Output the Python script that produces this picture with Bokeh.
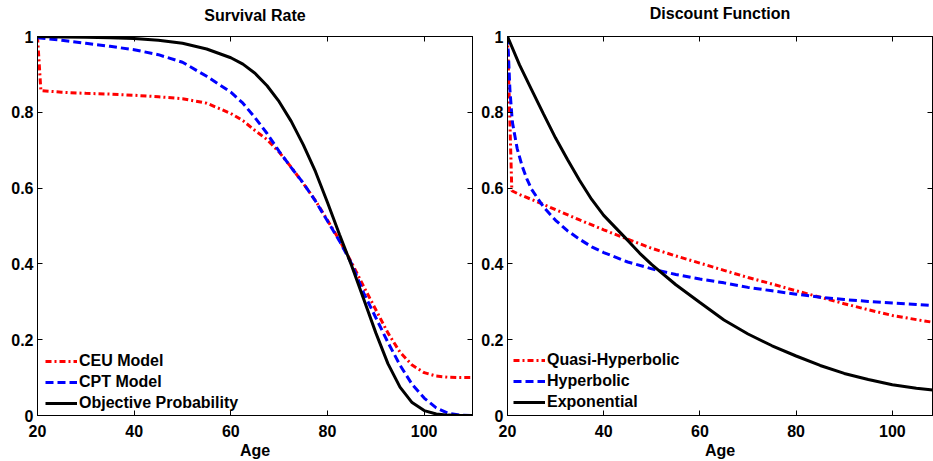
from bokeh.plotting import figure
from bokeh.layouts import row
from bokeh.models import Range1d, LinearAxis, FixedTicker, CustomJSTickFormatter
from bokeh.embed import file_html
from bokeh.resources import INLINE

# ---------------- data: Survival Rate ----------------
ceu_age = [20, 20.7, 25, 30, 35, 40, 45, 50, 55, 60, 62.5, 65, 67.5, 70, 72.5, 75, 77.5, 80,
           82.5, 85, 87.5, 90, 92.5, 95, 97.5, 100, 102.5, 105, 107.5, 110]
ceu_val = [1.0, 0.857, 0.853, 0.850, 0.848, 0.845, 0.841, 0.836, 0.824, 0.797, 0.778, 0.752, 0.728,
           0.695, 0.655, 0.612, 0.567, 0.515, 0.462, 0.403, 0.340, 0.279, 0.218, 0.167, 0.133,
           0.113, 0.104, 0.101, 0.100, 0.100]

cpt_age = [20, 25, 30, 35, 40, 45, 50, 55, 60, 62.5, 65, 67.5, 70, 72.5, 75, 77.5, 80, 82.5, 85,
           87.5, 90, 92.5, 95, 97.5, 100, 102.5, 105, 107.5, 110]
cpt_val = [0.997, 0.990, 0.982, 0.974, 0.965, 0.952, 0.932, 0.895, 0.853, 0.824, 0.786, 0.744, 0.697,
           0.654, 0.613, 0.566, 0.513, 0.460, 0.400, 0.323, 0.258, 0.193, 0.133, 0.082, 0.046,
           0.020, 0.006, 0.001, 0.0]

obj_age = [20, 25, 30, 35, 40, 45, 50, 55, 60, 62.5, 65, 67.5, 70, 72.5, 75, 77.5, 80, 82.5, 85,
           87.5, 90, 92.5, 95, 97.5, 100, 102.5, 105, 107.5, 110]
obj_val = [1.0, 0.999, 0.998, 0.997, 0.995, 0.990, 0.982, 0.967, 0.944, 0.927, 0.903, 0.870, 0.828,
           0.776, 0.714, 0.644, 0.562, 0.477, 0.395, 0.307, 0.218, 0.137, 0.075, 0.034, 0.013,
           0.004, 0.001, 0.0, 0.0]

# ---------------- data: Discount Function ----------------
qh_age = [20, 20.9, 22.5, 25, 27.5, 30, 35, 40, 45, 50, 55, 60, 65, 70, 75, 80, 85, 90, 95, 100,
          105, 108.4]
qh_val = [1.0, 0.593, 0.583, 0.570, 0.557, 0.543, 0.516, 0.490, 0.465, 0.441, 0.421, 0.402, 0.383,
          0.364, 0.347, 0.329, 0.312, 0.295, 0.279, 0.264, 0.253, 0.246]

hyp_age = [20, 20.2, 20.5, 21, 22, 23, 24, 25, 27.5, 30, 32.5, 35, 37.5, 40, 45, 50, 55, 60, 65,
           70, 75, 80, 85, 90, 95, 100, 105, 108.4]
hyp_val = [1.0, 0.95, 0.86, 0.775, 0.705, 0.660, 0.625, 0.597, 0.550, 0.515, 0.487, 0.465, 0.445,
           0.430, 0.405, 0.387, 0.372, 0.360, 0.350, 0.338, 0.329, 0.320, 0.312, 0.306, 0.301,
           0.297, 0.293, 0.290]

exp_age = [20, 22.5, 25, 27.5, 30, 32.5, 35, 37.5, 40, 42.5, 45, 47.5, 50, 55, 60, 65, 70, 75, 80,
           85, 90, 95, 100, 105, 108.4]
exp_val = [1.0, 0.925, 0.860, 0.795, 0.732, 0.675, 0.620, 0.570, 0.528, 0.495, 0.462, 0.428, 0.398,
           0.345, 0.298, 0.252, 0.215, 0.184, 0.157, 0.132, 0.111, 0.095, 0.081, 0.072, 0.067]

x_ticks = [20, 40, 60, 80, 100]
y_ticks = [0, 0.2, 0.4, 0.6, 0.8, 1]

FONT = "Liberation Sans"
RED, BLUE, BLACK = "#FF0000", "#0000FF", "#000000"


def style(p, title_text, title_standoff):
    p.xgrid.visible = False
    p.ygrid.visible = False
    p.outline_line_color = BLACK
    p.outline_line_width = 1
    yfmt = CustomJSTickFormatter(code="return Number(tick.toFixed(1)).toString();")
    blank = CustomJSTickFormatter(code="return '';")
    p.xaxis.ticker = FixedTicker(ticks=x_ticks)
    p.yaxis.ticker = FixedTicker(ticks=y_ticks)
    p.yaxis.formatter = yfmt
    p.xaxis.axis_label = "Age"
    p.xaxis.axis_label_text_font = FONT
    p.xaxis.axis_label_text_font_size = "16px"
    p.xaxis.axis_label_text_font_style = "bold"
    p.xaxis.axis_label_text_color = BLACK
    p.xaxis.axis_label_standoff = 2
    for ax in (p.xaxis[0], p.yaxis[0]):
        ax.major_tick_in = 5
        ax.major_tick_out = 0
        ax.minor_tick_in = 0
        ax.minor_tick_out = 0
        ax.axis_line_color = BLACK
        ax.major_tick_line_color = BLACK
        ax.major_label_text_font = FONT
        ax.major_label_text_font_size = "16px"
        ax.major_label_text_font_style = "bold"
        ax.major_label_text_color = BLACK
    p.xaxis.major_label_standoff = 9
    p.yaxis.major_label_standoff = 4
    # top axis carries the chart title as its label (ticks inside, no tick labels)
    top = LinearAxis(ticker=FixedTicker(ticks=x_ticks), formatter=blank,
                     major_tick_in=5, major_tick_out=0, minor_tick_in=0, minor_tick_out=0,
                     major_label_standoff=0, major_label_text_font_size="0px",
                     axis_line_color=BLACK, major_tick_line_color=BLACK,
                     axis_label=title_text, axis_label_text_font=FONT,
                     axis_label_text_font_size="16px", axis_label_text_font_style="bold",
                     axis_label_text_color=BLACK, axis_label_standoff=title_standoff)
    right = LinearAxis(ticker=FixedTicker(ticks=y_ticks), formatter=blank,
                       major_tick_in=5, major_tick_out=0, minor_tick_in=0, minor_tick_out=0,
                       major_label_standoff=0, major_label_text_font_size="0px",
                       axis_line_color=BLACK, major_tick_line_color=BLACK)
    p.add_layout(top, "above")
    p.add_layout(right, "right")


def style_legend(p, loc):
    lg = p.legend[0]
    lg.location = loc
    lg.padding = 0
    lg.margin = 0
    lg.spacing = 1
    lg.background_fill_alpha = 0
    lg.border_line_alpha = 0
    lg.glyph_width = 32
    lg.glyph_height = 20
    lg.label_height = 20
    lg.label_standoff = 2
    lg.label_text_font = FONT
    lg.label_text_font_size = "16px"
    lg.label_text_font_style = "bold"
    lg.label_text_color = BLACK


p1 = figure(width=478, height=461, x_range=Range1d(20, 110), y_range=Range1d(0, 1),
            output_backend="svg", toolbar_location=None,
            min_border_left=37, min_border_right=6, min_border_top=36, min_border_bottom=44)
style(p1, "Survival Rate", 13)
p1.line(ceu_age, ceu_val, line_color=RED, line_width=3, line_dash="6 3 2 3", legend_label="CEU Model")
p1.line(cpt_age, cpt_val, line_color=BLUE, line_width=3, line_dash="8 4", legend_label="CPT Model")
p1.line(obj_age, obj_val, line_color=BLACK, line_width=3, legend_label="Objective Probability")
style_legend(p1, (8, 2))

p2 = figure(width=455, height=461, x_range=Range1d(20, 108.35), y_range=Range1d(0, 1),
            output_backend="svg", toolbar_location=None,
            min_border_left=28, min_border_right=1, min_border_top=34, min_border_bottom=45)
style(p2, "Discount Function", 15)
p2.line(qh_age, qh_val, line_color=RED, line_width=3, line_dash="6 3 2 3", legend_label="Quasi-Hyperbolic")
p2.line(hyp_age, hyp_val, line_color=BLUE, line_width=3, line_dash="8 4", legend_label="Hyperbolic")
p2.line(exp_age, exp_val, line_color=BLACK, line_width=3, legend_label="Exponential")
style_legend(p2, (6, 3))

layout = row(p1, p2)
open("out.html", "w").write(file_html(layout, INLINE))
